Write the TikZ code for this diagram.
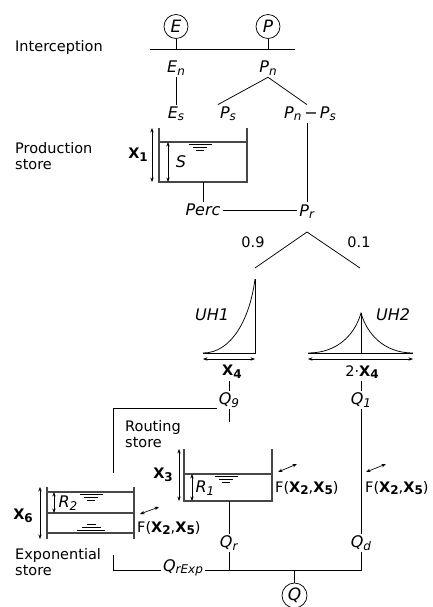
\documentclass[tikz,border=0pt]{standalone}
\usepackage{fontspec}
\setmainfont{DejaVu Sans}
\usetikzlibrary{arrows.meta}
\newcommand{\bx}[1]{\textbf{X}\raisebox{-2.7pt}{\fontsize{12}{14}\selectfont\textbf{#1}}}
\newcommand{\iv}[2]{{\fontsize{16}{18}\selectfont\textit{#1}\raisebox{-2.5pt}{\fontsize{12}{14}\selectfont\textit{#2}}}}
\newcommand{\mi}[1]{{\fontsize{16}{18}\selectfont\textit{#1}}}
\tikzset{
  ln/.style={line width=0.75pt, draw=black},
  wall/.style={line width=1.1pt, draw=black!72},
  dbl/.style={{Stealth[length=4.5pt,width=3.4pt]}-{Stealth[length=4.5pt,width=3.4pt]}, line width=0.65pt},
  wsym/.style={line width=0.8pt},
  bigc/.style={circle, draw, line width=0.75pt, minimum size=24pt, inner sep=0pt},
  water/.pic={\draw[wsym] (-11.5,2.5)--(11.5,2.5) (-7,5.5)--(7,5.5) (-4,8.5)--(4,8.5);}
}
\begin{document}
\begin{tikzpicture}[x=1pt,y=-1pt, every node/.append style={font=\fontsize{14.5}{16}\selectfont, inner sep=2pt}]
\useasboundingbox (0,0) rectangle (432,607);
% ---------- interception ----------
\node[anchor=west] (intc) at (13,48) {Interception};
\node[bigc] (E) at (176,26.5) {{\fontsize{17}{18}\selectfont\textit{E}}};
\node[bigc] (P) at (268,26.5) {{\fontsize{17}{18}\selectfont\textit{P}}};
\coordinate (hl) at (150,49); \coordinate (hr) at (295,49);
\draw[ln] (hl) -- (hr);
\draw[ln] (E.south) -- (E.south |- hl);
\draw[ln] (P.south) -- (P.south |- hl);
\node (En) at (176,68) {\iv{E}{n}};
\node (Pn) at (268,68) {\iv{P}{n}};
\node (Es) at (176,114) {\iv{E}{s}};
\node (Ps) at (228,114) {\iv{P}{s}};
\node (PnPs) at (310,114) {\iv{P}{n}\hspace{3pt}{\fontsize{16}{18}\selectfont −}\hspace{2pt}\iv{P}{s}};
\node (Pr) at (307,211.5) {\iv{P}{r}};
\draw[ln] (En) -- (Es);
\draw[ln] (Pn.south) -- (Ps.north west);
\draw[ln] (Pn.south) -- (Pr.north |- PnPs.north);
% ---------- production store ----------
\node[anchor=west, align=left] (prodlbl) at (13,156) {Production\\store};
\coordinate (pa) at (159,128); \coordinate (pb) at (159,182);
\coordinate (pc) at (247,182); \coordinate (pd) at (247,128);
\coordinate (pwl) at (159,142); \coordinate (pwr) at (247,142);
\draw[wall] (pa) -- (pb) -- (pc) -- (pd);
\draw[wall] (pwl) -- (pwr);
\pic at (200,142) {water};
\draw[dbl] (152,128) -- (152,182);
\node[anchor=east] (X1) at (150,155) {\bx{1}};
\draw[dbl] (168,142) -- (168,182);
\node (S) at (181,162) {\mi{S}};
\node (Perc) at (203,210) {\mi{Perc}};
\draw[ln] (Perc.north |- pc) -- (Perc.north);
\draw[ln] (Perc.east) -- (Perc.east -| Pr.west);
\draw[ln] (PnPs.south -| Pr.north) -- (Pr.north);
% ---------- split ----------
\coordinate (split) at (307,232); \coordinate (sl) at (255,268); \coordinate (sr) at (360,268);
\draw[ln] (sl) -- (split) -- (sr);
\node (p9) at (253,242) {0.9};
\node (p1) at (359,242) {0.1};
% ---------- UH1 ----------
\coordinate (u1a) at (203,353); \coordinate (u1b) at (255,353); \coordinate (u1t) at (255,279);
\draw[ln] (u1a) -- (u1b) -- (u1t);
\draw[ln] (u1a) .. controls (232,353) and (250,318) .. (u1t);
\draw[dbl] (203,359) -- (255,359);
\node (UH1) at (212,315) {\mi{UH1}};
\node (X4) at (232,372) {\bx{4}};
% ---------- UH2 ----------
\coordinate (u2a) at (308,353); \coordinate (u2b) at (413,353);
\coordinate (u2p) at (361,313); \coordinate (u2m) at (361,353);
\draw[ln] (u2a) -- (u2b);
\draw[ln] (u2p) -- (u2m);
\draw[ln] (u2a) .. controls (338,353) and (355,334) .. (u2p) .. controls (367,334) and (384,353) .. (u2b);
\draw[dbl] (308,359) -- (413,359);
\node (UH2) at (393,315) {\mi{UH2}};
\node (X4b) at (362,372) {2·\bx{4}};
% ---------- Q9 / Q1 ----------
\node (Q9) at (229,400) {\iv{Q}{9}};
\node (Q1) at (361,400) {\iv{Q}{1}};
\draw[ln] (Q9.north |- X4.south) -- (Q9.north);
\draw[ln] (Q1.north |- X4b.south) -- (Q1.north);
\coordinate (q9c) at (113,408); \coordinate (q9e) at (113,473); \coordinate (q9d) at (229,422);
\draw[ln] (Q9.west |- q9c) -- (q9c) -- (q9e);
\draw[ln] (Q9.south) -- (q9d);
% ---------- routing store ----------
\node[anchor=west, align=left] (routlbl) at (123,434) {Routing\\store};
\coordinate (ra) at (184,449); \coordinate (rb) at (184,501);
\coordinate (rc) at (272,501); \coordinate (rd) at (272,449);
\coordinate (rwl) at (184,474); \coordinate (rwr) at (272,474);
\draw[wall] (ra) -- (rb) -- (rc) -- (rd);
\draw[wall] (rwl) -- (rwr);
\pic at (226,474) {water};
\draw[dbl] (179,449) -- (179,501);
\node[anchor=east] (X3) at (175,475) {\bx{3}};
\draw[dbl] (192,474) -- (192,501);
\node (R1) at (205,488) {\iv{R}{1}};
\node[anchor=west] (F1) at (273,488) {F(\bx{2},\bx{5})};
\draw[dbl] (278,472) -- (297,464);
\node (Qr) at (229,543) {\iv{Q}{r}};
\draw[ln] (Qr.north |- rc) -- (Qr.north);
% ---------- direct branch ----------
\node (Qd) at (361,543) {\iv{Q}{d}};
\draw[ln] (Q1) -- (Qd);
\node[anchor=west] (F2) at (363,488) {F(\bx{2},\bx{5})};
\draw[dbl] (366,472) -- (386,464);
% ---------- exponential store ----------
\coordinate (ea) at (47,487); \coordinate (eb) at (47,539);
\coordinate (ec) at (134,539); \coordinate (ed) at (134,487);
\draw[wall] (ea) -- (eb);
\draw[wall] (ed) -- (ec);
\draw[wall] (47,492) -- (134,492);
\draw[wall] (47,513) -- (134,513);
\draw[wall] (47,533) -- (134,533);
\pic at (91,492) {water};
\draw[wsym] (86.5,524)--(95.5,524) (81.5,527)--(100.5,527) (77,530)--(105,530);
\draw[dbl] (40,487) -- (40,539);
\node[anchor=east] (X6) at (35,516) {\bx{6}};
\draw[dbl] (54,492) -- (54,513);
\node (R2) at (68,503) {\iv{R}{2}};
\node[anchor=west] (F3) at (135,528) {F(\bx{2},\bx{5})};
\draw[dbl] (140,514) -- (159,507);
\node[anchor=west, align=left] (explbl) at (13,562) {Exponential\\store};
% ---------- outlet ----------
\coordinate (bl) at (113,555); \coordinate (blc) at (113,570);
\coordinate (bq) at (294.5,570); \coordinate (brc) at (361,570);
\node (Qre) at (183,568) {\iv{Q}{rExp}};
\draw[ln] (bl) -- (blc) -- (Qre.west |- blc);
\draw[ln] (Qre.east |- blc) -- (brc) -- (Qd.south);
\draw[ln] (Qr.south) -- (Qr.south |- blc);
\node[bigc, minimum size=25pt] (Q) at (294.5,595.5) {{\fontsize{17}{18}\selectfont\textit{Q}}};
\draw[ln] (bq) -- (Q.north);
\end{tikzpicture}
\end{document}
